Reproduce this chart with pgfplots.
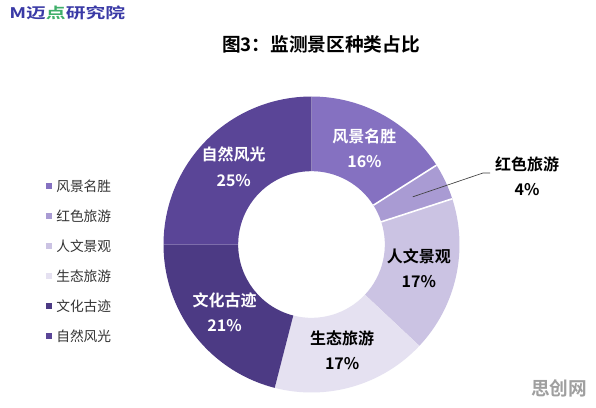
\documentclass[border=0pt]{standalone}
\usepackage{pgfplots}
\pgfplotsset{compat=1.18}
\usepackage{pgfplotstable}
\usetikzlibrary{calc}
\usepackage{fontspec}
\setmainfont{Noto Sans CJK SC}[BoldFont={Noto Sans CJK SC Bold}]

\definecolor{cA}{HTML}{8571C1}
\definecolor{cB}{HTML}{A99BD3}
\definecolor{cC}{HTML}{CBC3E3}
\definecolor{cD}{HTML}{E5E1F1}
\definecolor{cE}{HTML}{4C3A84}
\definecolor{cF}{HTML}{5A4597}
\definecolor{logoblue}{HTML}{3A3AA6}
\definecolor{logogreen}{HTML}{3FAF6A}

% share of each kind of monitored scenic area (percent), clockwise from the top
\pgfplotstableread[col sep=comma]{
name,value,fc,tc,sep,inside
风景名胜,16,cA,white,1,1
红色旅游,4,cB,black,1,0
人文景观,17,cC,black,1,1
生态旅游,17,cD,black,0,1
文化古迹,21,cE,white,0,1
自然风光,25,cF,white,0,1
}\shares
\pgfplotstablecreatecol[expr={\pgfmathaccuma + \thisrow{value}}]{cum}\shares

\begin{document}
\begin{tikzpicture}
\begin{axis}[
  scale only axis, width=447pt, height=305.25pt,
  xmin=0, xmax=596, ymin=0, ymax=407, y dir=reverse,
  hide axis, clip=false]
\pgfplotsextra{
  \fill[white] (axis cs:0,0) rectangle (axis cs:596,407);
  \coordinate (ctr) at (axis cs:311.5,244.5);
  % donut ring: outer radius 148 px, inner 73.5 px
  \foreach \i in {0,...,5}{
    \pgfplotstablegetelem{\i}{value}\of\shares \edef\v{\pgfplotsretval}
    \pgfplotstablegetelem{\i}{cum}\of\shares \edef\c{\pgfplotsretval}
    \pgfplotstablegetelem{\i}{fc}\of\shares \edef\fc{\pgfplotsretval}
    \pgfplotstablegetelem{\i}{tc}\of\shares \edef\tc{\pgfplotsretval}
    \pgfplotstablegetelem{\i}{sep}\of\shares \edef\sp{\pgfplotsretval}
    \pgfplotstablegetelem{\i}{inside}\of\shares \edef\ins{\pgfplotsretval}
    \pgfplotstablegetelem{\i}{name}\of\shares \edef\nm{\pgfplotsretval}
    \pgfmathsetmacro{\aS}{90-3.6*(\c-\v)}
    \pgfmathsetmacro{\aE}{90-3.6*\c}
    \pgfmathsetmacro{\aM}{90-3.6*(\c-\v/2)}
    \fill[\fc] ($(ctr)+(\aS:111pt)$) arc[start angle=\aS, end angle=\aE, radius=111pt]
      -- ($(ctr)+(\aE:55pt)$) arc[start angle=\aE, end angle=\aS, radius=55pt] -- cycle;
    \ifnum\sp=1
      \draw[white, line width=1.2pt] ($(ctr)+(\aS:55pt)$) -- ($(ctr)+(\aS:111pt)$);
    \fi
    \ifnum\ins=1
      \node[text=\tc, font=\bfseries\fontsize{12}{19}\selectfont, align=center]
        at ($(ctr)+(\aM:82.5pt)$) {\nm\\\v\%};
    \else
      \draw[black!75, line width=0.5pt] ($(ctr)+(\aM:84pt)$) -- (axis cs:483,173) -- (axis cs:490,173);
      \node[text=black, font=\bfseries\fontsize{12}{19}\selectfont, align=center]
        at (axis cs:527,176) {\nm\\\v\%};
    \fi
    % legend entry
    \pgfmathsetmacro{\ly}{186+30*\i}
    \fill[\fc] (axis cs:45.5,\ly-3) rectangle (axis cs:51.5,\ly+3);
    \node[anchor=west, text=black!80, font=\fontsize{10.3}{12}\selectfont, inner sep=0pt]
      at (axis cs:56,\ly) {\nm};
  }
  % title
  \node[font=\bfseries\fontsize{14}{16}\selectfont] at (axis cs:321,44) {图3：监测景区种类占比};
  % logo
  \node[anchor=west, inner sep=0pt] at (axis cs:9,13)
    {\scalebox{1.35}[1]{\fontsize{11}{12}\selectfont\bfseries
      \textcolor{logoblue}{M}\textcolor{logoblue}{迈}\textcolor{logogreen}{点}\textcolor{logoblue}{研究院}}};
  % site mark
  \node[text=gray!75, font=\bfseries\fontsize{14}{16}\selectfont] at (axis cs:559,388) {思创网};
}
\end{axis}
\end{tikzpicture}
\end{document}
